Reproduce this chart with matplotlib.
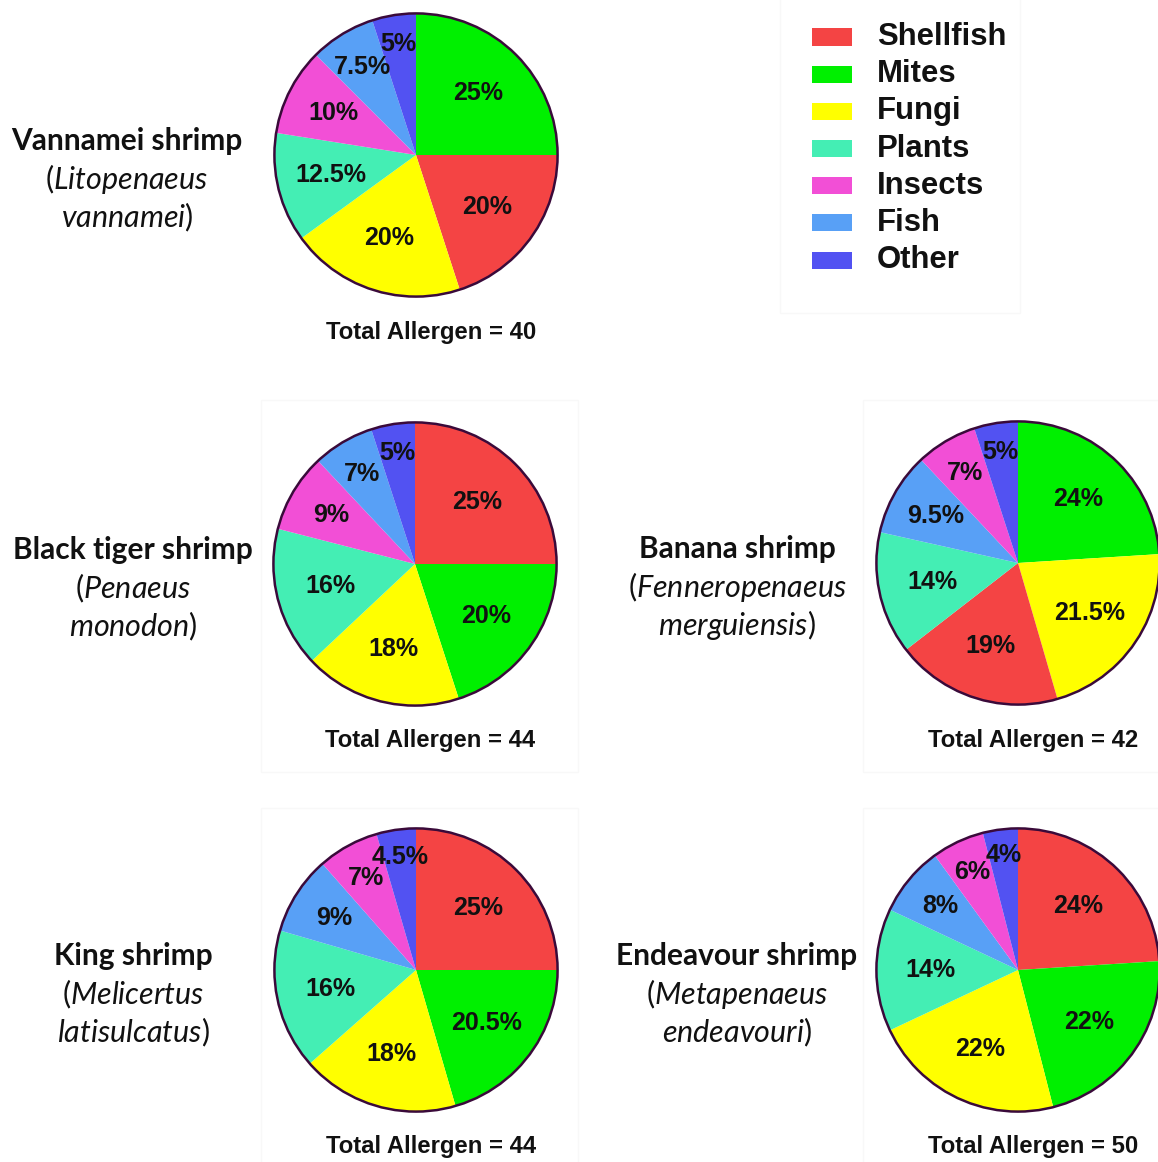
import numpy as np
import matplotlib.pyplot as plt
from matplotlib.patches import Circle, Rectangle

plt.rcParams['mathtext.fontset'] = 'custom'
plt.rcParams['mathtext.rm'] = 'Lato'
plt.rcParams['mathtext.it'] = 'Lato:italic'

# categories and colours
categories = ['Shellfish', 'Mites', 'Fungi', 'Plants', 'Insects', 'Fish', 'Other']
cat_colors = {'Shellfish': '#f44444', 'Mites': '#00f000', 'Fungi': '#ffff00',
              'Plants': '#44eeb4', 'Insects': '#f24fd6', 'Fish': '#58a0f6',
              'Other': '#5252f2'}

# each pie: slices clockwise from 12 o'clock
vannamei_cats = ['Mites', 'Shellfish', 'Fungi', 'Plants', 'Insects', 'Fish', 'Other']
vannamei_vals = [25, 20, 20, 12.5, 10, 7.5, 5]
vannamei_total = 40

tiger_cats = ['Shellfish', 'Mites', 'Fungi', 'Plants', 'Insects', 'Fish', 'Other']
tiger_vals = [25, 20, 18, 16, 9, 7, 5]
tiger_total = 44

banana_cats = ['Mites', 'Fungi', 'Shellfish', 'Plants', 'Fish', 'Insects', 'Other']
banana_vals = [24, 21.5, 19, 14, 9.5, 7, 5]
banana_total = 42

king_cats = ['Shellfish', 'Mites', 'Fungi', 'Plants', 'Fish', 'Insects', 'Other']
king_vals = [25, 20.5, 18, 16, 9, 7, 4.5]
king_total = 44

endeavour_cats = ['Shellfish', 'Mites', 'Fungi', 'Plants', 'Fish', 'Insects', 'Other']
endeavour_vals = [24, 22, 22, 14, 8, 6, 4]
endeavour_total = 50

names = ['Vannamei shrimp', 'Black tiger shrimp', 'Banana shrimp', 'King shrimp', 'Endeavour shrimp']
latin1 = ['Litopenaeus', 'Penaeus', 'Fenneropenaeus', 'Melicertus', 'Metapenaeus']
latin2 = ['vannamei', 'monodon', 'merguiensis', 'latisulcatus', 'endeavouri']

W, H = 1158, 1162
fig = plt.figure(figsize=(W / 100, H / 100), dpi=100)
fig.patch.set_facecolor('white')


def fx(x):
    return x / W


def fy(y):
    return 1 - y / H


def fmt(v):
    return ('%g' % v) + '%'


# faint panel frames (pasted image borders)
for x0, y0, x1, y1 in [(261, 400, 578, 772), (863, 400, 1170, 772), (261, 808, 578, 1170),
                       (863, 808, 1170, 1170), (780, -5, 1020, 313)]:
    fig.patches.append(Rectangle((fx(x0), fy(y1)), (x1 - x0) / W, (y1 - y0) / H,
                                 transform=fig.transFigure, fill=False, ec='#f8f8f8', lw=1))


def draw_pie(cx, cy, r, cats, vals, total, name, l1, l2, tx):
    ax = fig.add_axes([(cx - r) / W, 1 - (cy + r) / H, 2 * r / W, 2 * r / H])
    ax.pie(vals, colors=[cat_colors[c] for c in cats], startangle=90,
           counterclock=False, radius=1, wedgeprops=dict(linewidth=0))
    ax.add_patch(Circle((0, 0), 1, fill=False, ec='#3a0a3a', lw=1.8))
    ax.set_xlim(-1.01, 1.01)
    ax.set_ylim(-1.01, 1.01)
    ax.axis('off')
    cum = np.cumsum([0] + list(vals))
    for i, v in enumerate(vals):
        mid = np.deg2rad((cum[i] + cum[i + 1]) / 2 / 100 * 360)
        d = 0.62 if v >= 12 else 0.82 - (v - 4) * 0.027
        ax.text(d * np.sin(mid), d * np.cos(mid), fmt(v), ha='center', va='center',
                fontsize=18, fontweight='bold', family='Liberation Sans', color='#111111')
    fig.text(fx(cx + 15), fy(cy + 177), 'Total Allergen = %d' % total, ha='center', va='center',
             fontsize=17.2, fontweight='bold', family='Liberation Sans', color='#111111')
    ly = cy - 14
    fig.text(fx(tx), fy(ly), name, ha='center', va='center', fontsize=21.5,
             fontweight='bold', family='Lato', color='#111111')
    fig.text(fx(tx), fy(ly + 38), r'$\mathrm{(}\mathit{%s}$' % l1, ha='center', va='center',
             fontsize=22, color='#111111')
    fig.text(fx(tx), fy(ly + 76), r'$\mathit{%s}\mathrm{)}$' % l2, ha='center', va='center',
             fontsize=22, color='#111111')


draw_pie(416, 155, 143, vannamei_cats, vannamei_vals, vannamei_total, names[0], latin1[0], latin2[0], 127)
draw_pie(415, 564, 143, tiger_cats, tiger_vals, tiger_total, names[1], latin1[1], latin2[1], 133)
draw_pie(1018, 563, 143, banana_cats, banana_vals, banana_total, names[2], latin1[2], latin2[2], 737)
draw_pie(416, 970, 143, king_cats, king_vals, king_total, names[3], latin1[3], latin2[3], 133)
draw_pie(1018, 970, 143, endeavour_cats, endeavour_vals, endeavour_total, names[4], latin1[4], latin2[4], 737)

# legend
for i, c in enumerate(categories):
    y = 37 + i * 37.2
    fig.patches.append(Rectangle((fx(812), fy(y + 8.5)), 40 / W, 17 / H, transform=fig.transFigure,
                                 fc=cat_colors[c], ec='none'))
    fig.text(fx(877), fy(y), c, ha='left', va='center', fontsize=22.4, fontweight='bold',
             family='Liberation Sans', color='#111111')

fig.savefig('out.png', dpi=100)
